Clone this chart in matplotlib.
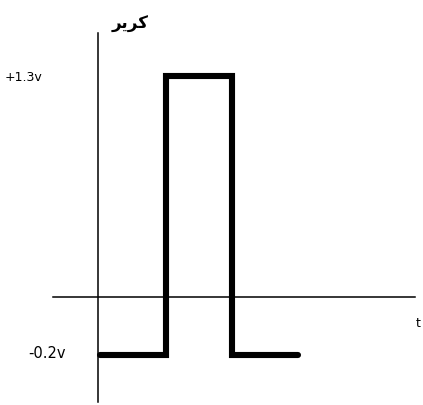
import numpy as np
import matplotlib
matplotlib.use("Agg")
import matplotlib.pyplot as plt

# === Data ===
# pulse drawn as a step: time steps and voltage levels
t = [0, 1, 1, 2, 2, 3]
volts = [-0.2, -0.2, 1.3, 1.3, -0.2, -0.2]
level_labels = ["+1.3v", "-0.2v"]
level_values = [1.3, -0.2]
y_title = "کریر"
x_title = "t"

# matplotlib has no arabic shaping, so map to presentation forms and reverse
forms = {
    ("ک", "init"): "\uFB90", ("ک", "isol"): "\uFB8E",
    ("ر", "fina"): "\uFEAE", ("ر", "isol"): "\uFEAD",
    ("ی", "init"): "\uFBFE", ("ی", "isol"): "\uFBFC",
}
non_joining = set("ر")


def shape(word):
    out = []
    prev_joins = False
    for i, ch in enumerate(word):
        nxt = i + 1 < len(word) and ch not in non_joining
        if prev_joins:
            key = "fina"
        else:
            key = "init" if nxt else "isol"
        out.append(forms.get((ch, key), ch))
        prev_joins = nxt
    return "".join(reversed(out))


# === Plot ===
fig = plt.figure(figsize=(4.23, 4.05), dpi=100)
ax = fig.add_axes([0, 0, 1, 1])
ax.set_xlim(-1.515, 4.894)
ax.set_ylim(-0.469, 1.709)
ax.axis("off")

# axes drawn by hand like the sketch
ax.plot([-0.03, -0.03], [-0.453, 1.531], color="black", lw=1.1)
ax.plot([-0.71, 4.77], [0.112, 0.112], color="black", lw=1.1)

ax.plot(t, volts, color="black", lw=4.4, solid_capstyle="round",
        solid_joinstyle="miter")

ax.text(-1.44, level_values[0] - 0.01, level_labels[0], fontsize=9,
        ha="left", va="center")
ax.text(-1.09, level_values[1] + 0.01, level_labels[1], fontsize=10.5,
        ha="left", va="center")

ax.text(0.17, 1.58, shape(y_title), fontsize=12, fontweight="bold",
        ha="left", va="center", family=["DejaVu Sans"])
ax.text(4.78, -0.03, x_title, fontsize=9, ha="left", va="center")

fig.savefig("out.png", dpi=100)
